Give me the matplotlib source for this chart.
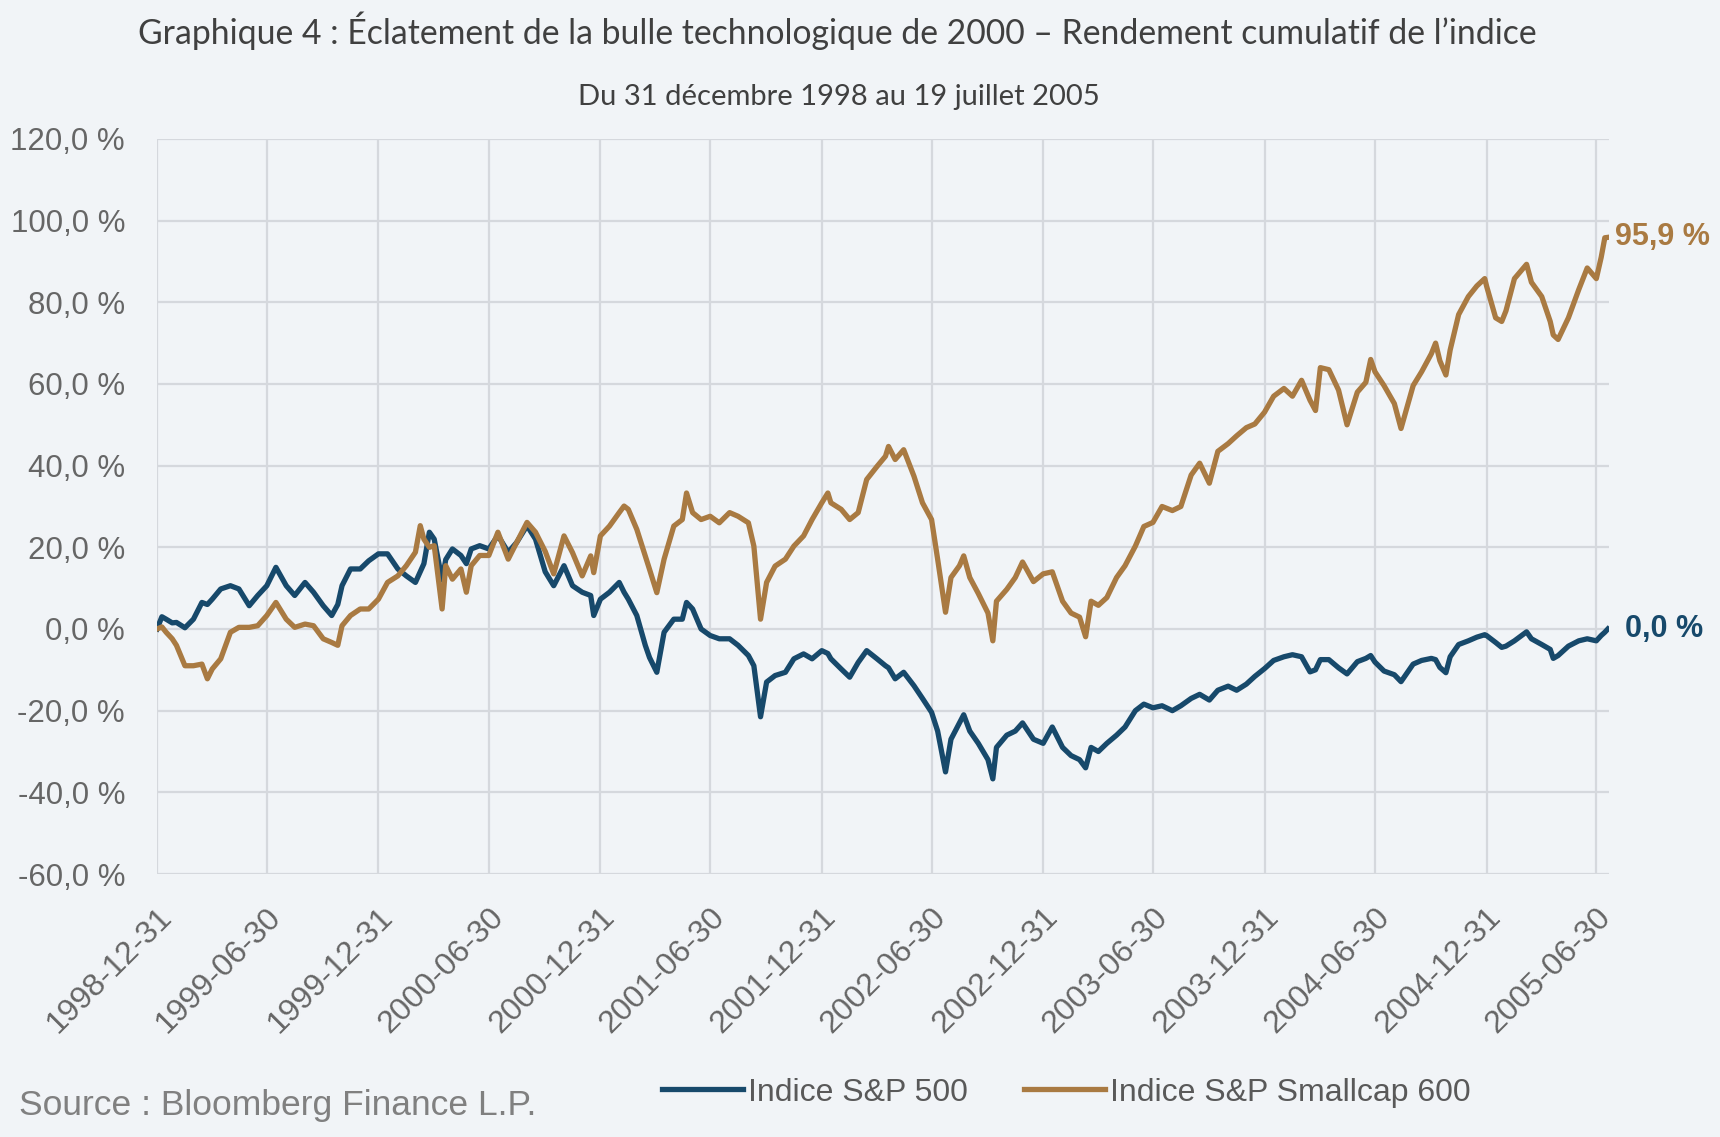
import pandas as pd
import matplotlib.pyplot as plt
from matplotlib.transforms import ScaledTranslation

# --- DATA (cumulative return in %) ---
dates = [
    "1998-12-31", "1999-01-08", "1999-01-15", "1999-01-25", "1999-02-01", "1999-02-15",
    "1999-03-01", "1999-03-15", "1999-03-24", "1999-04-01", "1999-04-15", "1999-05-01",
    "1999-05-15", "1999-06-01", "1999-06-15", "1999-06-30", "1999-07-15", "1999-08-01",
    "1999-08-15", "1999-09-01", "1999-09-15", "1999-10-01", "1999-10-15", "1999-10-25",
    "1999-11-01", "1999-11-15", "1999-12-01", "1999-12-15", "1999-12-31", "2000-01-15",
    "2000-02-01", "2000-02-15", "2000-03-01", "2000-03-09", "2000-03-15", "2000-03-24",
    "2000-04-01", "2000-04-14", "2000-04-20", "2000-05-01", "2000-05-15", "2000-05-24",
    "2000-06-01", "2000-06-15", "2000-06-30", "2000-07-15", "2000-08-01", "2000-08-15",
    "2000-09-01", "2000-09-15", "2000-10-01", "2000-10-15", "2000-11-01", "2000-11-15",
    "2000-12-01", "2000-12-15", "2000-12-20", "2000-12-31", "2001-01-15", "2001-01-31",
    "2001-02-08", "2001-02-15", "2001-03-01", "2001-03-15", "2001-03-22", "2001-04-03",
    "2001-04-15", "2001-05-01", "2001-05-15", "2001-05-22", "2001-06-01", "2001-06-15",
    "2001-06-30", "2001-07-15", "2001-08-01", "2001-08-15", "2001-09-01", "2001-09-10",
    "2001-09-21", "2001-10-01", "2001-10-15", "2001-11-01", "2001-11-15", "2001-12-01",
    "2001-12-15", "2001-12-31", "2002-01-10", "2002-01-15", "2002-02-01", "2002-02-15",
    "2002-03-01", "2002-03-15", "2002-04-01", "2002-04-15", "2002-04-20", "2002-05-01",
    "2002-05-15", "2002-06-01", "2002-06-15", "2002-06-30", "2002-07-10", "2002-07-23",
    "2002-08-01", "2002-08-15", "2002-08-22", "2002-09-01", "2002-09-15", "2002-10-01",
    "2002-10-09", "2002-10-15", "2002-11-01", "2002-11-15", "2002-11-27", "2002-12-15",
    "2002-12-31", "2003-01-15", "2003-02-01", "2003-02-15", "2003-03-01", "2003-03-11",
    "2003-03-20", "2003-04-01", "2003-04-15", "2003-05-01", "2003-05-15", "2003-06-01",
    "2003-06-15", "2003-06-30", "2003-07-15", "2003-08-01", "2003-08-15", "2003-09-01",
    "2003-09-15", "2003-10-01", "2003-10-15", "2003-11-01", "2003-11-15", "2003-12-01",
    "2003-12-15", "2003-12-31", "2004-01-15", "2004-02-01", "2004-02-15", "2004-03-01",
    "2004-03-15", "2004-03-24", "2004-04-01", "2004-04-15", "2004-05-01", "2004-05-15",
    "2004-06-01", "2004-06-15", "2004-06-23", "2004-06-30", "2004-07-15", "2004-08-01",
    "2004-08-12", "2004-09-01", "2004-09-15", "2004-10-01", "2004-10-08", "2004-10-15",
    "2004-10-25", "2004-11-01", "2004-11-15", "2004-12-01", "2004-12-15", "2004-12-28",
    "2004-12-31", "2005-01-15", "2005-01-25", "2005-02-01", "2005-02-15", "2005-03-07",
    "2005-03-15", "2005-04-01", "2005-04-15", "2005-04-20", "2005-04-28", "2005-05-15",
    "2005-06-01", "2005-06-15", "2005-06-30", "2005-07-08", "2005-07-14", "2005-07-19",
]

sp500 = [
    0.0, 3.0, 2.4, 1.5, 1.6, 0.3,
    2.4, 6.5, 6.0, 7.3, 9.8, 10.6,
    9.8, 5.7, 8.2, 10.6, 15.1, 10.6,
    8.2, 11.4, 9.0, 5.7, 3.3, 6.0,
    10.6, 14.7, 14.7, 16.7, 18.4, 18.4,
    14.7, 13.0, 11.4, 14.0, 16.0, 23.7,
    22.0, 12.0, 17.0, 19.6, 18.0, 16.0,
    19.6, 20.4, 19.6, 22.9, 18.8, 21.2,
    25.3, 22.0, 14.0, 10.6, 15.5, 10.6,
    9.0, 8.2, 3.3, 7.3, 9.0, 11.4,
    9.0, 7.3, 3.3, -4.0, -7.0, -10.6,
    -0.8, 2.4, 2.4, 6.5, 4.9, 0.0,
    -1.6, -2.4, -2.4, -4.0, -6.5, -9.0,
    -21.5, -13.0, -11.4, -10.6, -7.3, -6.1,
    -7.3, -5.3, -6.0, -7.3, -9.8, -11.8,
    -8.2, -5.3, -7.3, -9.0, -9.5, -12.2,
    -10.6, -13.9, -17.0, -20.4, -25.0, -35.0,
    -27.0, -23.0, -21.0, -25.0, -28.0, -32.0,
    -36.7, -29.0, -26.0, -25.0, -23.0, -27.0,
    -28.0, -24.0, -29.0, -31.0, -32.0, -34.0,
    -29.0, -30.0, -28.0, -26.0, -24.0, -20.0,
    -18.4, -19.3, -18.8, -20.0, -18.8, -17.0,
    -16.0, -17.4, -15.0, -14.0, -15.0, -13.5,
    -11.6, -9.7, -7.7, -6.8, -6.3, -6.8,
    -10.5, -10.0, -7.5, -7.5, -9.5, -11.0,
    -8.0, -7.2, -6.5, -8.1, -10.3, -11.2,
    -12.9, -8.6, -7.7, -7.2, -7.5, -9.4,
    -10.7, -6.8, -3.8, -2.9, -2.0, -1.4,
    -1.6, -3.3, -4.5, -4.2, -2.9, -0.7,
    -2.4, -3.8, -5.0, -7.2, -6.5, -4.2,
    -2.9, -2.4, -2.9, -1.6, -0.8, 0.0,
]

smallcap600 = [
    0.0, 0.5, -0.8, -2.4, -4.0, -9.0,
    -9.0, -8.6, -12.2, -9.8, -7.3, -0.8,
    0.4, 0.4, 0.8, 3.3, 6.5, 2.4,
    0.4, 1.2, 0.8, -2.4, -3.3, -4.0,
    0.8, 3.3, 4.9, 4.9, 7.3, 11.4,
    13.0, 15.5, 18.8, 25.3, 22.0, 20.0,
    20.4, 4.9, 15.5, 12.2, 14.7, 9.0,
    15.5, 18.0, 18.0, 23.7, 17.1, 21.2,
    26.1, 23.7, 19.0, 13.5, 22.8, 18.7,
    13.0, 17.9, 13.8, 22.8, 25.2, 28.5,
    30.1, 29.3, 24.4, 17.9, 14.6, 8.9,
    17.1, 25.2, 26.8, 33.3, 28.5, 26.8,
    27.6, 26.0, 28.5, 27.6, 26.0, 20.3,
    2.4, 11.4, 15.4, 17.1, 20.3, 22.8,
    26.8, 30.9, 33.3, 30.9, 29.3, 26.8,
    28.5, 36.6, 39.8, 42.3, 44.7, 41.5,
    43.9, 37.4, 30.9, 26.8, 17.1, 4.1,
    12.6, 15.5, 17.9, 12.6, 8.7, 3.9,
    -2.9, 6.8, 9.7, 12.6, 16.4, 11.6,
    13.5, 14.0, 6.8, 3.9, 2.9, -1.9,
    6.8, 5.8, 7.7, 12.6, 15.5, 20.3,
    25.1, 26.1, 30.0, 29.0, 30.0, 37.7,
    40.6, 35.7, 43.5, 45.4, 47.3, 49.3,
    50.2, 53.1, 57.0, 58.9, 57.0, 60.9,
    56.0, 53.5, 64.0, 63.5, 58.5, 50.0,
    58.0, 60.4, 66.0, 63.0, 59.6, 55.2,
    49.1, 59.6, 63.0, 67.4, 70.0, 65.7,
    62.2, 68.3, 77.0, 81.4, 84.0, 85.8,
    84.0, 76.2, 75.3, 77.9, 85.8, 89.3,
    84.9, 81.4, 75.3, 72.0, 70.9, 76.2,
    83.1, 88.4, 85.8, 91.0, 95.8, 95.9,
]

tick_labels = [
    "1998-12-31", "1999-06-30", "1999-12-31", "2000-06-30", "2000-12-31",
    "2001-06-30", "2001-12-31", "2002-06-30", "2002-12-31", "2003-06-30",
    "2003-12-31", "2004-06-30", "2004-12-31", "2005-06-30",
]
y_ticks = [-60, -40, -20, 0, 20, 40, 60, 80, 100, 120]
series_names = ["Indice S&P 500", "Indice S&P Smallcap 600"]

# --- STYLE ---
BG = "#F1F4F7"
NAVY = "#17496B"
BROWN = "#A97A42"
GRID = "#D5D8DD"
TICK_GRAY = "#666666"
FONT = "Liberation Sans"

x = pd.to_datetime(dates)

fig = plt.figure(figsize=(17.2, 11.37), dpi=100)
fig.patch.set_facecolor(BG)
ax = fig.add_axes([0.0913, 0.2313, 0.8442, 0.6465])
ax.set_facecolor(BG)

ax.plot(x, sp500, color=NAVY, lw=3.8, label=series_names[0], solid_joinstyle="round")
ax.plot(x, smallcap600, color=BROWN, lw=3.8, label=series_names[1], solid_joinstyle="round")

ax.set_xlim(pd.Timestamp("1998-12-31"), pd.Timestamp("2005-07-21"))
ax.set_ylim(-60, 120)

# axis ticks
ax.set_xticks(pd.to_datetime(tick_labels))
ax.set_xticklabels(tick_labels, rotation=45, ha="right", va="center",
                   rotation_mode="anchor", fontsize=23, color=TICK_GRAY, family=FONT)
ax.set_yticks(y_ticks)
ax.set_yticklabels([f"{v:.1f} %".replace(".", ",") for v in y_ticks],
                   fontsize=22.5, color=TICK_GRAY, family=FONT)
ax.tick_params(axis="both", length=0)
ax.tick_params(axis="y", pad=23)
ax.tick_params(axis="x", pad=28)
shift = ScaledTranslation(10 / 100, 0, fig.dpi_scale_trans)
for lbl in ax.get_xticklabels():
    lbl.set_transform(lbl.get_transform() + shift)

ax.grid(True, color=GRID, lw=1.6)
ax.set_axisbelow(True)
for s in ax.spines.values():
    s.set_visible(False)

# end-of-series value labels
ax.annotate("95,9 %", (x[-1], smallcap600[-1]), xytext=(5, 0), textcoords="offset points",
            va="center", ha="left", fontsize=22, fontweight="bold", color=BROWN, family=FONT)
ax.annotate("0,0 %", (x[-1], sp500[-1]), xytext=(12, 0), textcoords="offset points",
            va="center", ha="left", fontsize=22, fontweight="bold", color=NAVY, family=FONT)

# titles
fig.text(0.487, 0.973, "Graphique 4 : Éclatement de la bulle technologique de 2000 – Rendement cumulatif de l’indice",
         ha="center", va="center", fontsize=24.3, color="#404040", family="Lato")
fig.text(0.488, 0.915, "Du 31 décembre 1998 au 19 juillet 2005",
         ha="center", va="center", fontsize=21, color="#404040", family="Lato")

# source + legend
fig.text(0.011, 0.028, "Source : Bloomberg Finance L.P.", ha="left", va="center",
         fontsize=25.5, color="#808080", family=FONT)
fig.legend(loc="center", bbox_to_anchor=(0.62, 0.039), ncol=2, frameon=False,
           handlelength=2.55, handletextpad=0.15, columnspacing=1.75,
           prop={"family": FONT, "size": 23}, labelcolor="#595959")

fig.savefig("out.png", dpi=100, facecolor=BG)
